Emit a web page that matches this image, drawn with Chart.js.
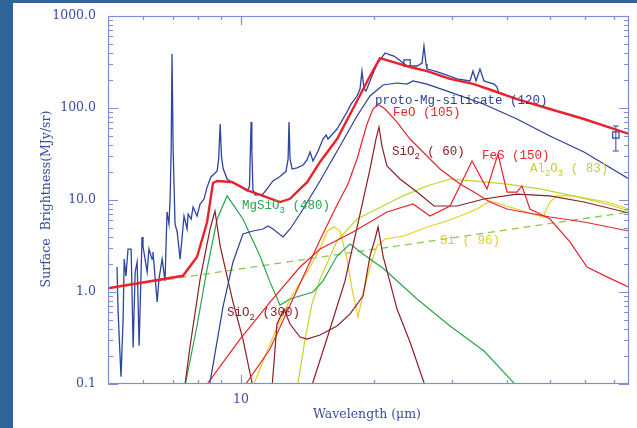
<!DOCTYPE html>
<html>
<head>
<meta charset="utf-8">
<script src="https://cdn.jsdelivr.net/npm/chart.js@4.4.0/dist/chart.umd.min.js"></script>
<style>
html, body { margin: 0; padding: 0; width: 637px; height: 428px; overflow: hidden; background: #2f6497; }
#wrap { position: absolute; left: 13px; top: 3px; width: 624px; height: 425px; background: #fff; }
</style>
</head>
<body>
<div id="wrap"><canvas id="chart" width="624" height="425"></canvas></div>
<script>
// wavelength (um), surface brightness (MJy/sr)
const observed = [[5.24,1.87],[5.27,0.61],[5.35,0.12],[5.41,0.51],[5.44,2.28],[5.49,1.49],[5.55,2.93],[5.64,2.93],[5.70,0.25],[5.76,1.65],[5.82,2.12],[5.88,0.26],[5.97,3.96],[6.00,3.16],[6.13,1.65],[6.19,2.93],[6.29,2.28],[6.32,2.72],[6.46,0.78],[6.52,1.38],[6.63,2.28],[6.73,1.32],[6.80,7.41],[6.87,5.48],[6.91,10.3],[6.95,35.8],[6.98,386],[7.02,35.8],[7.09,5.48],[7.17,4.49],[7.28,2.28],[7.35,3.77],[7.43,6.70],[7.55,4.84],[7.59,7.04],[7.71,6.21],[7.79,8.39],[7.95,6.70],[8.08,9.05],[8.25,10.3],[8.38,13.8],[8.55,17.8],[8.69,19.2],[8.83,20.7],[8.90,28],[8.97,67.0],[9.03,30],[9.11,22],[9.30,16.9],[9.59,15.3],[9.95,14.2],[10.32,12.5],[10.45,14],[10.50,35],[10.54,70.4],[10.58,35],[10.64,13],[10.76,11.3],[11.21,11.6],[11.45,13.2],[11.81,16.1],[12.25,18.0],[12.64,20.5],[12.78,28],[12.84,70.4],[12.91,28],[13.05,21.7],[13.39,22.3],[13.82,24.0],[14.10,27.2],[14.33,33.2],[14.55,26.5],[14.94,34.1],[15.33,46.0],[15.58,50.9],[15.74,46.0],[16.49,59.1],[17.37,90.5],[17.74,110],[18.30,135],[18.59,161],[18.78,252],[18.98,161],[19.18,153],[19.58,197],[20.31,301],[21.18,396],[21.73,377],[22.19,367],[22.66,341],[23.14,316],[23.75,286],[25.02,286],[25.68,308],[25.94,472],[26.22,301],[26.35,265],[27.48,252],[28.80,234],[30.82,207],[32.97,197],[33.49,252],[34.02,197],[34.73,265],[35.47,197],[36.03,192],[37.36,182],[37.95,169],[38.35,142]];

const totalModel = [[5.0,1.10],[7.39,1.50],[7.95,2.40],[8.38,5.77],[8.64,15.3],[8.83,16.1],[9.54,15.7],[10.32,12.8],[11.21,11.1],[12.25,9.5],[12.91,10.3],[13.60,13.2],[14.10,15.5],[15.09,25.9],[16.49,46.0],[18.30,119],[19.58,223],[20.63,349],[24.12,279],[26.35,252],[29.71,207],[33.65,182],[37.36,153],[42.1,125],[50.0,97.5],[59.7,75.9],[75.5,52.2]];

const protoSilicate = [[8.42,0.078],[8.51,0.105],[9.11,0.704],[9.59,2.12],[10.10,4.27],[10.64,4.60],[11.21,4.84],[11.51,5.22],[11.81,4.84],[12.45,3.96],[12.91,4.84],[13.60,7.04],[15.09,16.1],[16.75,38.6],[18.30,81.9],[19.58,135],[20.96,178],[22.54,187],[23.75,182],[24.50,197],[26.35,182],[29.71,149],[35.47,110],[42.1,75.9],[50.0,49.6],[59.7,33.2],[75.5,16.9]];

const feo = [[10.1,0.09],[11.63,0.24],[15.09,3.67],[16.32,7.98],[17.46,14.9],[18.30,27.9],[19.28,67.0],[19.89,97.5],[20.42,110],[21.18,97.5],[22.54,70.4],[24.12,46.0],[26.08,31.6],[28.20,21.7],[31.30,14.9],[33.65,12.2],[36.59,9.51],[39.99,7.98],[50.0,6.53],[59.7,5.77],[75.5,4.60]];

const fes = [[8.25,0.09],[9.95,0.308],[11.63,0.778],[13.60,1.87],[15.09,2.93],[17.92,4.49],[21.39,7.41],[24.50,9.05],[26.77,6.70],[29.71,8.61],[33.32,26.5],[36.03,13.2],[38.15,31.6],[39.99,12.2],[42.1,12.2],[43.22,14.2],[45.06,7.98],[50.0,6.21],[55.51,3.50],[60.66,1.87],[67.3,1.46],[75.5,1.13]];

const sio2Cold = [[14.4,0.09],[15.90,0.396],[17.19,1.32],[18.59,7.04],[19.58,21.7],[20.20,46.0],[20.52,62.2],[20.84,38.6],[21.39,23.4],[22.89,16.9],[25.02,12.2],[27.33,8.61],[30.82,8.61],[35.47,10.25],[42.1,11.6],[50.0,11.1],[59.7,9.51],[75.5,7.22]];

const sio2Warm = [[7.45,0.09],[7.67,0.259],[8.08,1.38],[8.51,4.84],[8.73,7.59],[8.97,3.16],[9.59,0.778],[10.10,0.308],[10.65,0.09],[11.2,0.04],[11.75,0.09],[12.06,0.449],[12.51,0.653],[12.91,0.449],[13.60,0.324],[14.10,0.308],[15.09,0.341],[16.49,0.427],[17.65,0.577],[18.88,0.905],[19.58,2.46],[20.10,3.77],[20.42,5.09],[20.96,2.46],[21.73,1.28],[22.54,0.653],[24.12,0.286],[26.2,0.09]];

const mgsio3 = [[7.45,0.09],[7.95,0.427],[8.38,1.78],[8.83,6.21],[9.30,11.1],[10.10,6.21],[11.04,2.46],[11.63,1.28],[12.25,0.722],[12.91,0.839],[14.55,1.0],[15.33,1.32],[16.49,2.46],[17.65,3.32],[18.88,2.59],[21.06,1.78],[25.02,0.839],[29.71,0.427],[35.47,0.228],[42.5,0.09]];

const al2o3 = [[13.4,0.09],[13.96,0.308],[14.47,0.741],[15.09,1.38],[16.49,3.58],[18.30,6.21],[20.31,7.98],[23.26,11.1],[26.35,14.2],[29.71,16.9],[33.49,16.1],[39.99,14.9],[47.49,13.2],[56.38,11.1],[67.3,9.05],[75.5,7.59]];

const silicon = [[10.6,0.09],[11.63,0.272],[12.91,0.839],[14.33,1.87],[15.09,2.93],[15.66,4.60],[16.23,5.09],[16.75,4.60],[17.37,2.28],[17.83,1.08],[18.40,0.535],[18.88,0.951],[19.58,1.87],[20.31,3.16],[21.18,3.77],[23.38,4.06],[26.77,5.22],[28.80,5.77],[31.30,6.70],[34.20,7.98],[36.59,9.75],[38.55,9.05],[43.45,7.59],[48.22,6.53],[50.0,9.51],[51.87,11.1],[56.38,11.1],[67.3,9.51],[75.5,7.98]];

const continuum = [[5.0,1.10],[75.5,7.4]];

const photometry = [[23.75,308],[70.5,50.9]];
const errorBar70 = [[70.5,34.1],[70.5,63.7]];

const yTickValues = [0.1, 1, 10, 100, 1000];
const yTickLabels = ['0.1', '1.0', '10.0', '100.0', '1000.0'];
const xTickValues = [10];
const xTickLabels = ['10'];
const xMinorTicks = [6, 7, 8, 9, 20, 30, 40, 50, 60, 70];

const axisColor = '#7d90cf';
const textColor = '#3b4e9f';
const red = '#e8232c';
const maroon = '#8a1e26';
const green = '#27a64a';
const yellowGreen = '#c2d42a';
const yellow = '#e6cf22';
const navy = '#2b3f95';

const componentLabels = [
    { parts: [['proto-Mg-silicate (120)', 0]], at: [20.1, 119], color: navy },
    { parts: [['FeO (105)', 0]], at: [22.07, 88.3], color: red },
    { parts: [['SiO', 0], ['2', 1], [' ( 60)', 0]], at: [21.95, 33.2], color: maroon },
    { parts: [['FeS (150)', 0]], at: [35.1, 30.1], color: red },
    { parts: [['Al', 0], ['2', 1], ['O', 0], ['3', 1], [' ( 83)', 0]], at: [45.06, 21.7], color: yellowGreen },
    { parts: [['MgSiO', 0], ['3', 1], [' (480)', 0]], at: [10.05, 8.61], color: green },
    { parts: [['Si ( 96)', 0]], at: [28.2, 3.58], color: yellow },
    { parts: [['SiO', 0], ['2', 1], [' (300)', 0]], at: [9.30, 0.591], color: maroon }
];

function pts(arr) {
    return arr.map(p => ({ x: p[0], y: p[1] }));
}

function lineSet(arr, color, width, extra) {
    return Object.assign({
        data: pts(arr),
        borderColor: color,
        borderWidth: width,
        pointRadius: 0,
        tension: 0,
        fill: false
    }, extra || {});
}

const decor = {
    id: 'decor',
    afterDatasetsDraw(chart) {
        const { ctx, chartArea: a, scales: { x, y } } = chart;
        ctx.save();
        ctx.strokeStyle = axisColor;
        ctx.lineWidth = 1.2;
        ctx.strokeRect(a.left + 0.5, a.top + 0.5, a.right - a.left - 1, a.bottom - a.top - 1);

        // y ticks, both sides
        ctx.beginPath();
        yTickValues.forEach((v, i) => {
            const yy = Math.round(y.getPixelForValue(v)) + 0.5;
            ctx.moveTo(a.left, yy); ctx.lineTo(a.left + 10, yy);
            ctx.moveTo(a.right, yy); ctx.lineTo(a.right - 10, yy);
            if (i < yTickValues.length - 1) {
                for (let m = 2; m <= 9; m++) {
                    const ym = Math.round(y.getPixelForValue(v * m)) + 0.5;
                    ctx.moveTo(a.left, ym); ctx.lineTo(a.left + 5, ym);
                    ctx.moveTo(a.right, ym); ctx.lineTo(a.right - 5, ym);
                }
            }
        });
        // x ticks, top and bottom
        xTickValues.forEach(v => {
            const xx = Math.round(x.getPixelForValue(v)) + 0.5;
            ctx.moveTo(xx, a.bottom); ctx.lineTo(xx, a.bottom - 9);
            ctx.moveTo(xx, a.top); ctx.lineTo(xx, a.top + 9);
        });
        xMinorTicks.forEach(v => {
            const xx = Math.round(x.getPixelForValue(v)) + 0.5;
            ctx.moveTo(xx, a.bottom); ctx.lineTo(xx, a.bottom - 4);
            ctx.moveTo(xx, a.top); ctx.lineTo(xx, a.top + 4);
        });
        ctx.stroke();

        // component labels
        ctx.textBaseline = 'middle';
        ctx.textAlign = 'left';
        componentLabels.forEach(l => {
            let px = x.getPixelForValue(l.at[0]);
            const py = y.getPixelForValue(l.at[1]);
            ctx.fillStyle = l.color;
            l.parts.forEach(([t, sub]) => {
                ctx.font = sub ? '9px "Liberation Mono"' : '12.5px "Liberation Mono"';
                ctx.fillText(t, px, sub ? py + 5 : py);
                px += ctx.measureText(t).width;
            });
        });

        // axis titles
        ctx.fillStyle = textColor;
        ctx.textAlign = 'center';
        ctx.font = '12.5px "DejaVu Serif"';
        ctx.fillText('Wavelength (\u03bcm)', 354, 412);
        ctx.translate(34, 196);
        ctx.rotate(-Math.PI / 2);
        ctx.fillText('Surface  Brightness(MJy/sr)', 0, 0);
        ctx.restore();
    }
};

new Chart(document.getElementById('chart'), {
    type: 'line',
    data: {
        datasets: [
            lineSet(totalModel, red, 2.4),
            lineSet(observed, '#2c44a2', 1.3),
            {
                type: 'scatter',
                data: pts(photometry),
                pointStyle: 'rect',
                pointRadius: 4.5,
                borderColor: '#2c44a2',
                backgroundColor: 'rgba(0,0,0,0)',
                borderWidth: 1.2,
                showLine: false
            },
            lineSet(errorBar70, '#2c44a2', 1, { pointStyle: 'line', pointRadius: 3, pointBorderColor: '#2c44a2', pointBorderWidth: 1 }),
            lineSet(protoSilicate, navy, 1.2),
            lineSet(feo, red, 1.2),
            lineSet(fes, red, 1.2),
            lineSet(sio2Cold, maroon, 1.2),
            lineSet(sio2Warm, maroon, 1.2),
            lineSet(mgsio3, green, 1.2),
            lineSet(al2o3, yellowGreen, 1.2),
            lineSet(silicon, yellow, 1.2),
            lineSet(continuum, '#8cc84e', 1.3, { borderDash: [7, 5] })
        ]
    },
    options: {
        responsive: false,
        animation: false,
        devicePixelRatio: 1,
        layout: { padding: { top: 13, right: 8, left: 0, bottom: 0 } },
        plugins: { legend: { display: false }, tooltip: { enabled: false } },
        scales: {
            x: {
                type: 'logarithmic',
                min: 5,
                max: 75.5,
                grid: { display: false },
                border: { display: false },
                afterBuildTicks: s => { s.ticks = xTickValues.map(v => ({ value: v })); },
                afterFit: s => { s.height = 44; },
                ticks: {
                    autoSkip: false,
                    maxRotation: 0,
                    padding: 0,
                    color: textColor,
                    font: { family: 'DejaVu Serif', size: 12.5 },
                    callback: (v, i) => xTickLabels[i]
                }
            },
            y: {
                type: 'logarithmic',
                min: 0.1,
                max: 1000,
                grid: { display: false },
                border: { display: false },
                afterBuildTicks: s => { s.ticks = yTickValues.map(v => ({ value: v })); },
                afterFit: s => { s.width = 95; },
                ticks: {
                    autoSkip: false,
                    padding: 4,
                    color: textColor,
                    font: { family: 'DejaVu Serif', size: 12.5 },
                    callback: (v, i) => yTickLabels[i]
                }
            }
        }
    },
    plugins: [decor]
});
</script>
</body>
</html>
